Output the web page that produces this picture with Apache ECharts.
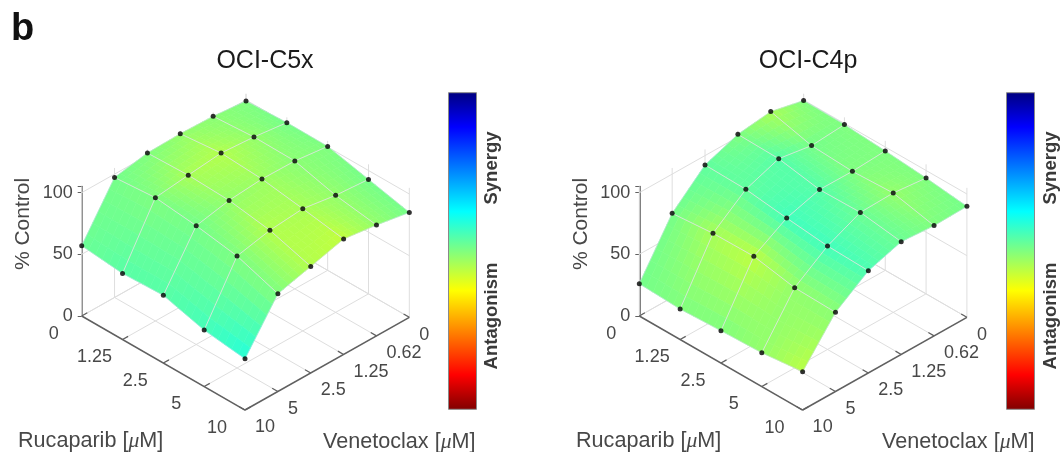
<!DOCTYPE html>
<html><head><meta charset="utf-8">
<style>html,body{margin:0;padding:0;background:#fff}#c{width:1061px;height:452px}</style>
<script src="https://cdn.jsdelivr.net/npm/echarts@6/dist/echarts.min.js"></script>
</head><body><div id="c"></div>
<script>
// ---------- data ----------
const rucaparibLabels = ['0','1.25','2.5','5','10'];
const venetoclaxLabels = ['0','0.62','1.25','2.5','5','10'];
const controlTicks = [0,50,100];
// rows = rucaparib dose, columns = venetoclax dose
const c5xControl = [
 [99.2,101.8,102.7,102.1,97.3,57.0],
 [100.7,104.1,106.1,103.2,100.0,53.6],
 [100.5,103.7,104.1,101.8,96.3,54.9],
 [92.8,94.9,99.1,96.6,90.8,45.8],
 [85.1,89.9,93.6,86.4,79.3,41.6]];
const c4pControl = [
 [99.5,105.6,102.2,92.4,68.2,26.2],
 [99.1,97.1,101.5,91.7,71.1,24.7],
 [96.8,95.3,95.5,87.5,71.5,26.2],
 [93.9,96.8,96.1,83.9,65.1,27.4],
 [90.0,89.4,91.4,82.9,64.2,31.1]];
// position on the colour scale: 0 = top of bar (synergy), 1 = bottom (antagonism)
const c5xScore = [
 [.50,.51,.52,.50,.49,.48],
 [.49,.52,.55,.54,.50,.46],
 [.50,.51,.53,.52,.49,.46],
 [.49,.52,.54,.55,.50,.44],
 [.49,.52,.565,.55,.50,.41]];
const c4pScore = [
 [.50,.54,.50,.47,.49,.49],
 [.50,.49,.46,.47,.54,.50],
 [.50,.50,.46,.44,.56,.50],
 [.50,.52,.48,.44,.52,.52],
 [.49,.50,.48,.45,.51,.56]];

// ---------- colour map ----------
const jetStops = [[0,[0,0,128]],[.11,[0,0,255]],[.375,[0,255,255]],[.625,[255,255,0]],[.89,[255,0,0]],[1,[128,0,0]]];
function jet(t){
  for(let k=1;k<jetStops.length;k++){
    if(t<=jetStops[k][0]){
      const a=jetStops[k-1],b=jetStops[k],f=(t-a[0])/(b[0]-a[0]);
      return 'rgb('+a[1].map((v,n)=>Math.round(v+(b[1][n]-v)*f)).join(',')+')';
    }
  }
  return 'rgb(128,0,0)';
}
// ---------- projection: axis units of each hidden x axis / real z axis ----------
const Z_MAX=105, WIDTH=327.6, PX_PER_Z=1.2333;
const R_DX=40.83, R_DW=-19.06, V_DX=32.86, V_DW=15.03;
const nR=rucaparibLabels.length-1, nV=venetoclaxLabels.length-1;
function proj(r,i,z){ return [r*R_DX+(nV-i)*V_DX, z+r*R_DW+(nV-i)*V_DW]; }
const FONT='"Liberation Sans",Arial,sans-serif';
const GRID='#dedede', AXIS='#606060', TXT='#484848';

function lineEl(api,a,b,color,w){
  const p=api.coord(a),q=api.coord(b);
  return {type:'line',shape:{x1:p[0],y1:p[1],x2:q[0],y2:q[1]},style:{stroke:color,lineWidth:w},silent:true};
}
function bilin(m,r,i){
  const r0=Math.min(Math.floor(r),m.length-2), i0=Math.min(Math.floor(i),m[0].length-2), a=r-r0,b=i-i0;
  return m[r0][i0]*(1-a)*(1-b)+m[r0+1][i0]*a*(1-b)+m[r0][i0+1]*(1-a)*b+m[r0+1][i0+1]*a*b;
}
function panel(idx,leftX,zData,sData){
  const series=[];
  series.push({type:'custom',xAxisIndex:idx,yAxisIndex:idx,z:1,silent:true,data:[[0,0]],
    renderItem(p,api){
      const ch=[];
      for(let r=0;r<=nR;r++){
        ch.push(lineEl(api,proj(r,0,0),proj(r,nV,0),GRID,1));
        ch.push(lineEl(api,proj(r,0,0),proj(r,0,Z_MAX),GRID,1));
      }
      for(let i=0;i<=nV;i++){
        ch.push(lineEl(api,proj(0,i,0),proj(nR,i,0),GRID,1));
        ch.push(lineEl(api,proj(0,i,0),proj(0,i,Z_MAX),GRID,1));
      }
      controlTicks.forEach(z=>{
        ch.push(lineEl(api,proj(0,0,z),proj(nR,0,z),GRID,1));
        ch.push(lineEl(api,proj(0,0,z),proj(0,nV,z),GRID,1));
      });
      ch.push(lineEl(api,proj(0,nV,0),proj(nR,nV,0),AXIS,1.5));
      ch.push(lineEl(api,proj(nR,nV,0),proj(nR,0,0),AXIS,1.5));
      for(let r=0;r<=nR;r++) ch.push(lineEl(api,proj(r,nV,0),proj(r,nV-.17,0),AXIS,1.2));
      for(let i=0;i<=nV;i++) ch.push(lineEl(api,proj(nR,i,0),proj(nR-.14,i,0),AXIS,1.2));
      rucaparibLabels.forEach((t,r)=>{
        const c=api.coord(proj(r,nV,0));
        ch.push({type:'text',silent:true,style:{text:t,x:c[0]-28,y:c[1]+18,align:'center',verticalAlign:'middle',fill:TXT,font:'18px '+FONT}});
      });
      venetoclaxLabels.forEach((t,i)=>{
        const c=api.coord(proj(nR,i,0));
        ch.push({type:'text',silent:true,style:{text:t,x:c[0]+10,y:c[1]+17.5,align:'left',verticalAlign:'middle',fill:TXT,font:'18px '+FONT}});
      });
      return {type:'group',children:ch};
    }});
  const cells=[];
  for(let r=0;r<nR;r++) for(let i=0;i<nV;i++) cells.push([r,i]);
  const SUB=6;
  series.push({type:'custom',xAxisIndex:idx,yAxisIndex:idx,z:3,silent:true,data:cells,
    renderItem(p,api){
      const r0=api.value(0), i0=api.value(1), ch=[];
      const pt=(r,i)=>api.coord(proj(r,i,bilin(zData,r,i)));
      for(let a=0;a<SUB;a++) for(let b=0;b<SUB;b++){
        const ra=r0+a/SUB, rb=r0+(a+1)/SUB, ia=i0+b/SUB, ib=i0+(b+1)/SUB;
        const col=jet(bilin(sData,(ra+rb)/2,(ia+ib)/2));
        ch.push({type:'polygon',silent:true,shape:{points:[pt(ra,ia),pt(rb,ia),pt(rb,ib),pt(ra,ib)]},
          style:{fill:col,stroke:col,lineWidth:.6}});
      }
      return {type:'group',children:ch};
    }});
  const meshLines=[];
  for(let r=0;r<=nR;r++) for(let i=0;i<nV;i++) meshLines.push([r,i,r,i+1]);
  for(let r=0;r<nR;r++) for(let i=0;i<=nV;i++) meshLines.push([r,i,r+1,i]);
  series.push({type:'custom',xAxisIndex:idx,yAxisIndex:idx,z:4,silent:true,data:meshLines,
    renderItem(p,api){
      const r1=api.value(0),i1=api.value(1),r2=api.value(2),i2=api.value(3);
      const border=(r1===r2&&(r1===0||r1===nR))||(i1===i2&&(i1===0||i1===nV));
      return lineEl(api,proj(r1,i1,zData[r1][i1]),proj(r2,i2,zData[r2][i2]),border?'rgba(205,215,245,.6)':'rgba(222,228,225,.85)',border?.8:1);
    }});
  const pts=[];
  zData.forEach((row,r)=>row.forEach((z,i)=>pts.push(proj(r,i,z))));
  series.push({type:'scatter',xAxisIndex:idx,yAxisIndex:idx,z:5,silent:true,symbolSize:5,data:pts,
    clip:false,itemStyle:{color:'#000'},animation:false});
  return {
    grid:{left:leftX,width:WIDTH,top:316-Z_MAX*PX_PER_Z,height:Z_MAX*PX_PER_Z,containLabel:false},
    xAxis:{gridIndex:idx,type:'value',min:0,max:WIDTH,show:false},
    yAxis:{gridIndex:idx,type:'value',min:0,max:Z_MAX,interval:50,position:'left',
      axisLine:{show:true,onZero:false,lineStyle:{color:AXIS,width:1.6}},
      axisTick:{show:true,length:4,lineStyle:{color:AXIS}},
      axisLabel:{color:TXT,fontSize:18,fontFamily:'Liberation Sans',margin:9,padding:[0,0,6,0],
        formatter:v=>controlTicks.includes(v)?String(v):''},
      splitLine:{show:false}},
    series
  };
}
const P=[panel(0,81.7,c5xControl,c5xScore),panel(1,639.3,c4pControl,c4pScore)];

function rich(txt,x,y){
  return {type:'text',silent:true,x,y,style:{
    text:'{a|'+txt+' [}{m|\u03bc}{a|M]}',
    rich:{a:{fontFamily:'Liberation Sans',fontSize:21.6,fill:TXT,color:TXT},
          m:{fontFamily:'Liberation Serif',fontStyle:'italic',fontSize:21.6,fill:TXT,color:TXT}},
    verticalAlign:'middle'}};
}
function plain(t,x,y,font,fill,rot,align){
  return {type:'text',silent:true,x,y,rotation:rot||0,style:{text:t,font:font+' '+FONT,fill,align:align||'center',verticalAlign:'middle'}};
}
function bar(x,w){
  const stops=jetStops.map(s=>({offset:s[0],color:'rgb('+s[1].join(',')+')'}));
  return {type:'rect',silent:true,shape:{x,y:92.7,width:w,height:316.6},
    style:{fill:new echarts.graphic.LinearGradient(0,0,0,1,stops),stroke:'#8a8a8a',lineWidth:1}};
}
const HALF=Math.PI/2;
const chart=echarts.init(document.getElementById('c'),null,{renderer:'canvas'});
chart.setOption({
  animation:false,backgroundColor:'#fff',
  grid:P.map(p=>p.grid),xAxis:P.map(p=>p.xAxis),yAxis:P.map(p=>p.yAxis),
  series:P.flatMap(p=>p.series),
  graphic:{elements:[
    plain('b',22.5,29.5,'bold 38px','#111'),
    plain('OCI-C5x',265,61,'25px','#1a1a1a'),
    plain('OCI-C4p',808,61,'25px','#1a1a1a'),
    plain('% Control',23,224,'21px',TXT,HALF),
    plain('% Control',581,224,'21px',TXT,HALF),
    rich('Rucaparib',18,441), rich('Venetoclax',323,442),
    rich('Rucaparib',576,441), rich('Venetoclax',882,442),
    bar(448.5,28), bar(1006.5,28),
    plain('Synergy',492,168,'bold 18.5px','#3a3a3a',HALF),
    plain('Antagonism',492,316,'bold 18.5px','#3a3a3a',HALF),
    plain('Synergy',1051,168,'bold 18.5px','#3a3a3a',HALF),
    plain('Antagonism',1051,316,'bold 18.5px','#3a3a3a',HALF)
  ]}
});
</script></body></html>
